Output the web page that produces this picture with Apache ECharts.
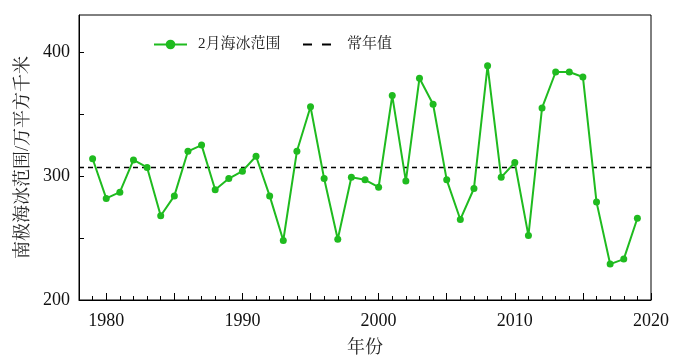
<!DOCTYPE html>
<html>
<head>
<meta charset="utf-8">
<script src="https://cdn.jsdelivr.net/npm/echarts@6/dist/echarts.min.js"></script>
<style>html,body{margin:0;padding:0;background:#fff}#c{width:677px;height:358px}</style>
</head>
<body>
<div id="c"></div>
<script>
var years = [1979,1980,1981,1982,1983,1984,1985,1986,1987,1988,1989,1990,1991,1992,1993,1994,1995,1996,1997,1998,1999,2000,2001,2002,2003,2004,2005,2006,2007,2008,2009,2010,2011,2012,2013,2014,2015,2016,2017,2018,2019];
var extent = [314,282,287,313,307,268,284,320,325,289,298,304,316,284,248,320,356,298,249,299,297,291,365,296,379,358,297,265,290,389,299,311,252,355,384,384,380,279,229,233,266];
var normalValue = 307;
var normalSpan = [1978, 2020];
var seriesNames = ['2月海冰范围', '常年值'];
var xLabelValues = [1980, 1990, 2000, 2010, 2020];
var xMajorTickValues = [1980, 1985, 1990, 1995, 2000, 2005, 2010, 2015, 2020];
var xMinorTickValues = [1979,1980,1981,1982,1983,1984,1985,1986,1987,1988,1989,1990,1991,1992,1993,1994,1995,1996,1997,1998,1999,2000,2001,2002,2003,2004,2005,2006,2007,2008,2009,2010,2011,2012,2013,2014,2015,2016,2017,2018,2019];

var fontSerif = '"Liberation Serif", "Noto Serif CJK SC", "Noto Sans CJK SC", serif';
var chart = echarts.init(document.getElementById('c'), null, {renderer: 'canvas'});
chart.setOption({
  animation: false,
  backgroundColor: '#fff',
  grid: {left: 79, right: 26, top: 15, bottom: 58, show: true, borderColor: '#000', borderWidth: 1,
         containLabel: false, outerBoundsMode: 'none'},
  legend: [
    {
      left: 148, top: 32, itemWidth: 33, itemHeight: 12,
      textStyle: {fontFamily: fontSerif, fontSize: 15, color: '#222', padding: [0, 0, 0, 6]},
      data: [seriesNames[0]]
    },
    {
      left: 297, top: 32, itemWidth: 28, itemHeight: 12,
      textStyle: {fontFamily: fontSerif, fontSize: 15, color: '#222', padding: [0, 0, 0, 11]},
      data: [{name: seriesNames[1], itemStyle: {opacity: 0}, lineStyle: {type: [9, 10], width: 2, color: '#000'}}]
    }
  ],
  xAxis: [
    {
      type: 'value', min: 1978, max: 2020, interval: 1,
      name: '年份', nameLocation: 'middle', nameGap: 39,
      nameTextStyle: {fontFamily: fontSerif, fontSize: 18, color: '#222'},
      axisLine: {lineStyle: {color: '#000', width: 1}},
      axisTick: {inside: true, length: 7, customValues: xMajorTickValues, lineStyle: {color: '#000'}},
      splitLine: {show: false},
      axisLabel: {fontFamily: fontSerif, fontSize: 18, color: '#111', margin: 12, customValues: xLabelValues,
        formatter: function (v) { return String(v); }}
    },
    {
      type: 'value', min: 1978, max: 2020, interval: 1, position: 'bottom',
      axisLine: {show: false},
      axisTick: {inside: true, length: 4, customValues: xMinorTickValues, lineStyle: {color: '#000'}},
      splitLine: {show: false},
      axisLabel: {show: false}
    }
  ],
  yAxis: {
    type: 'value', min: 200, max: 430, interval: 50,
    name: '南极海冰范围/万平方千米', nameLocation: 'middle', nameGap: 43, nameRotate: 90,
    nameTextStyle: {fontFamily: fontSerif, fontSize: 18, color: '#222'},
    axisLine: {lineStyle: {color: '#000', width: 1}},
    axisTick: {inside: true, length: 5, lineStyle: {color: '#000'}},
    splitLine: {show: false},
    axisLabel: {fontFamily: fontSerif, fontSize: 18, color: '#111', margin: 9, showMaxLabel: false,
      formatter: function (v) { return v % 100 === 0 ? String(v) : ''; }}
  },
  series: [
    {
      name: seriesNames[0], type: 'line', xAxisIndex: 0,
      data: years.map(function (y, i) { return [y, extent[i]]; }),
      symbol: 'circle', symbolSize: 7,
      lineStyle: {color: '#1fbb1f', width: 2},
      itemStyle: {color: '#1fbb1f'},
      z: 3
    },
    {
      name: seriesNames[1], type: 'line', xAxisIndex: 0,
      data: normalSpan.map(function (x) { return [x, normalValue]; }),
      symbol: 'none',
      lineStyle: {color: '#000', width: 1.5, type: [5, 4]},
      itemStyle: {color: '#000'},
      z: 2
    }
  ]
});
</script>
</body>
</html>
